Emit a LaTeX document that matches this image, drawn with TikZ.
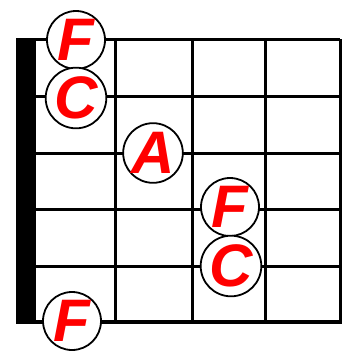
\documentclass[tikz,border=0pt]{standalone}
\usepackage{fontspec}
\newfontfamily\notefont{Liberation Sans}
\usetikzlibrary{positioning}

\begin{document}
\begin{tikzpicture}[
    x=1pt, y=-1pt,
    fret/.style={line width=3pt},
    note/.style={circle, draw, fill=white, line width=1.8pt, minimum size=58pt, inner sep=0pt,
                 text=red, font=\notefont\bfseries\itshape\fontsize{60}{60}\selectfont}
]
\useasboundingbox (0,0) rectangle (348,354);
% strings and frets
\foreach \y in {39,96,153,209,266} \draw[fret] (36,\y) -- (340,\y);
\draw[line width=4.5pt] (36,322) -- (341.5,322);
\foreach \x in {115,192,265,340} \draw[fret] (\x,39) -- (\x,322);
% nut
\fill (16,38) rectangle (36,324);
% notes
\node[note] (f1) at (76,40) {F};
\node[note] (c1) at (76,98) {C};
\node[note] (a1) at (153,153) {A};
\node[note] (f2) at (230,207) {F};
\node[note] (c2) at (231,266) {C};
\node[note] (f3) at (72,321) {F};
\end{tikzpicture}
\end{document}
